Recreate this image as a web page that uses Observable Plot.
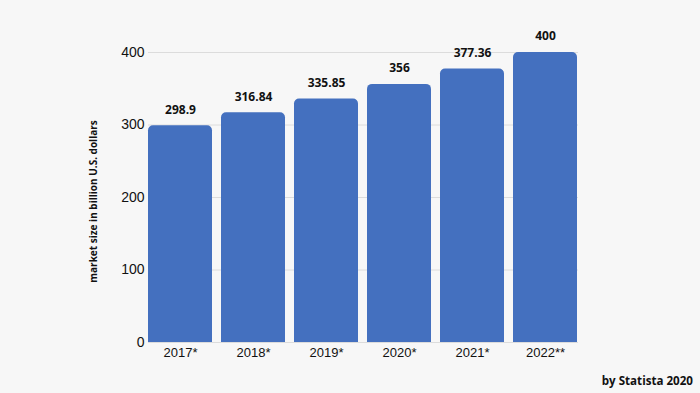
<!DOCTYPE html>
<html><head><meta charset="utf-8">
<script src="https://cdn.jsdelivr.net/npm/d3@7"></script>
<script src="https://cdn.jsdelivr.net/npm/@observablehq/plot@0.6"></script>
<style>
html,body{margin:0;padding:0;background:#f7f7f7;}
#wrap{position:relative;width:700px;height:393px;overflow:hidden;}
#cap{position:absolute;right:7px;top:373px;font:bold 11.6px "Open Sans",sans-serif;color:#111;}
</style></head>
<body><div id="wrap"><div id="chart"></div><div id="cap">by Statista 2020</div></div>
<script>
const years = ["2017*","2018*","2019*","2020*","2021*","2022**"];
const values = [298.9, 316.84, 335.85, 356, 377.36, 400];
const labels = ["298.9","316.84","335.85","356","377.36","400"];
const yTicks = [0,100,200,300,400];
const data = years.map((y,i)=>({year:y, value:values[i], label:labels[i]}));
const blue = "#4470bf";
const chart = Plot.plot({
  width:700, height:393,
  marginLeft:148, marginRight:122, marginTop:52, marginBottom:51,
  style:{background:"#f7f7f7", fontFamily:"'Liberation Sans', Arial, sans-serif"},
  x:{domain:years, paddingInner:0.12, paddingOuter:0, align:0.5, label:null},
  y:{domain:[0,400], ticks:yTicks, label:null},
  marks:[
    Plot.gridY(yTicks,{stroke:"#dcdcdc", strokeOpacity:1, strokeWidth:1}),
    Plot.barY(data,{x:"year", y:"value", fill:blue, rx:5}),
    Plot.barY(data,{x:"year", y1:0, y2:20, fill:blue}),
    Plot.axisX({tickSize:0, tickPadding:5, fontSize:13, fill:"#111", label:null}),
    Plot.axisY(yTicks,{tickSize:0, tickPadding:4, fontSize:14, fill:"#111", label:null}),
    Plot.text(data,{x:"year", y:"value", text:"label", dy:-16, fontSize:12, fontWeight:"bold", fontFamily:"'Open Sans', sans-serif", fill:"#111"}),
    Plot.text(["market size in billion U.S. dollars"],{frameAnchor:"left", textAnchor:"middle", dx:-55, dy:4, rotate:-90, fontSize:10, fontWeight:"bold", fontFamily:"'Open Sans', sans-serif", fill:"#111"})
  ]
});
document.getElementById("chart").appendChild(chart);
</script></body></html>
